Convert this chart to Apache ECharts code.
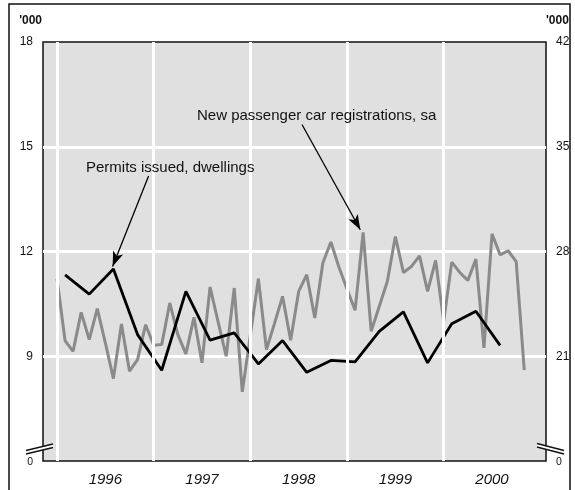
<!DOCTYPE html>
<html><head><meta charset="utf-8">
<script src="https://cdn.jsdelivr.net/npm/echarts@6/dist/echarts.min.js"></script>
<style>html,body{margin:0;padding:0;background:#fff}#c{width:575px;height:490px}</style>
</head><body><div id="c"></div>
<script>
const years = ['1996', '1997', '1998', '1999', '2000'];
const leftMin = 6, leftMax = 18, leftStep = 3;      // bottom shown as 0 (broken axis)
const rightMin = 14, rightMax = 42, rightStep = 7;  // bottom shown as 0 (broken axis)
// New passenger car registrations, sa ('000) - monthly, from Jan 1996
const carRegistrations = [
  26.18, 22.05, 21.33, 23.93, 22.11, 24.18, 21.9, 19.51, 23.16, 20.0, 20.78, 23.11,
  21.73, 21.78, 24.56, 22.45, 21.16, 23.6, 20.56, 25.63, 23.3, 21.0, 25.56, 18.62,
  22.4, 26.18, 21.45, 23.2, 25.0, 22.07, 25.33, 26.45, 23.56, 27.23, 28.63, 26.95,
  25.5, 24.07, 29.27, 22.67, 24.33, 26.0, 29.0, 26.6, 27.0, 27.71, 25.33, 27.4,
  23.33, 27.29, 26.6, 26.07, 27.49, 21.56, 29.18, 27.78, 28.05, 27.33, 20.07
];
// Permits issued, dwellings ('000) - quarterly, mid-quarter, from Q1 1996
const permitsIssued = [
  11.33, 10.78, 11.50, 9.62, 8.60, 10.86, 9.46, 9.67, 8.78, 9.45,
  8.54, 8.88, 8.84, 9.71, 10.27, 8.81, 9.93, 10.29, 9.31
];
const permitsLabel = 'Permits issued, dwellings';
const carLabel = 'New passenger car registrations, sa';
const unitLabel = "'000";

const FONT = 'Liberation Sans, Arial, Helvetica, sans-serif';
const carData = carRegistrations.map((v, i) => [i, v]);            // month index from Jan 1996
const permitsData = permitsIssued.map((v, i) => [1 + 3 * i, v]);   // middle month of quarter
const yearStarts = years.map((y, i) => i * 12);
const yearMids = years.map((y, i) => i * 12 + 6);

const chart = echarts.init(document.getElementById('c'), null, {renderer: 'canvas'});
chart.setOption({
  animation: false,
  textStyle: {fontFamily: FONT},
  grid: {left: 43, right: 29, top: 42, bottom: 29, show: true,
         backgroundColor: '#e0e0e0', borderColor: '#111', borderWidth: 1.5},
  xAxis: {
    type: 'value', min: -1.738, max: 60.70,
    axisLine: {show: false}, axisTick: {show: false}, splitLine: {show: false},
    axisLabel: {customValues: yearMids, margin: 11, fontSize: 15, fontStyle: 'italic', color: '#111',
      fontFamily: FONT,
      formatter: v => years[Math.round((v - 6) / 12)]}
  },
  yAxis: [
    {type: 'value', min: leftMin, max: leftMax, interval: leftStep, position: 'left',
     axisLine: {show: false}, axisTick: {show: false},
     splitLine: {show: true, showMinLine: false, showMaxLine: false, lineStyle: {color: '#fff', width: 3}},
     axisLabel: {margin: 10, fontSize: 12, color: '#111', fontFamily: FONT,
       formatter: v => v === leftMin ? '{z|0}' : String(v),
       rich: {z: {fontSize: 10.5, color: '#111', fontFamily: FONT, padding: [3, 0, 0, 0]}}}},
    {type: 'value', min: rightMin, max: rightMax, interval: rightStep, position: 'right',
     axisLine: {show: false}, axisTick: {show: false}, splitLine: {show: false},
     axisLabel: {margin: 10, fontSize: 12, color: '#111', fontFamily: FONT,
       formatter: v => v === rightMin ? '{z|0}' : String(v),
       rich: {z: {fontSize: 10.5, color: '#111', fontFamily: FONT, padding: [3, 0, 0, 0]}}}}
  ],
  series: [
    {type: 'line', data: [], z: 1, silent: true,
     markLine: {silent: true, symbol: 'none', label: {show: false},
       lineStyle: {color: '#fff', width: 3, type: 'solid'},
       emphasis: {disabled: true},
       data: yearStarts.map(x => ({xAxis: x}))}},
    {type: 'line', name: carLabel, yAxisIndex: 1, data: carData, z: 3,
     showSymbol: false, symbol: 'none', lineStyle: {color: '#8a8a8a', width: 3}, silent: true,
     markLine: {silent: true, label: {show: false}, emphasis: {disabled: true},
       lineStyle: {color: '#000', width: 1.3, type: 'solid'},
       data: [[{coord: [30.41, 36.49], symbol: 'none'},
               {coord: [37.65, 29.45], symbol: 'arrow', symbolSize: [8, 15]}]]}},
    {type: 'line', name: permitsLabel, yAxisIndex: 0, data: permitsData, z: 4,
     showSymbol: false, symbol: 'none', lineStyle: {color: '#000', width: 2.8}, silent: true,
     markLine: {silent: true, label: {show: false}, emphasis: {disabled: true},
       lineStyle: {color: '#000', width: 1.3, type: 'solid'},
       data: [[{coord: [11.37, 14.16], symbol: 'none'},
               {coord: [6.9, 11.57], symbol: 'arrow', symbolSize: [8, 15]}]]}}
  ],
  graphic: [
    {type: 'rect', shape: {x: 9, y: 4, width: 561, height: 500}, silent: true,
     style: {fill: null, stroke: '#111', lineWidth: 1.5}, z: 10},
    {type: 'text', x: 42, y: 21, silent: true, z: 100,
     style: {text: unitLabel, font: 'bold 12px ' + FONT, fill: '#111', textAlign: 'right', textVerticalAlign: 'middle'}},
    {type: 'text', x: 546, y: 21, silent: true, z: 100,
     style: {text: unitLabel, font: 'bold 12px ' + FONT, fill: '#111', textAlign: 'left', textVerticalAlign: 'middle'}},
    {type: 'text', x: 86, y: 168, silent: true, z: 100,
     style: {text: permitsLabel, font: '15px ' + FONT, fill: '#111', textVerticalAlign: 'middle'}},
    {type: 'text', x: 197, y: 116, silent: true, z: 100,
     style: {text: carLabel, font: '15px ' + FONT, fill: '#111', textVerticalAlign: 'middle'}},
    // axis break marks
    {type: 'polygon', silent: true, z: 20, shape: {points: [[26, 450.5], [53, 444], [53, 447.5], [26, 454]]}, style: {fill: '#fff'}},
    {type: 'line', silent: true, z: 21, shape: {x1: 26, y1: 450.5, x2: 53, y2: 444}, style: {stroke: '#111', lineWidth: 1.3}},
    {type: 'line', silent: true, z: 21, shape: {x1: 26, y1: 454, x2: 53, y2: 447.5}, style: {stroke: '#111', lineWidth: 1.3}},
    {type: 'polygon', silent: true, z: 20, shape: {points: [[537, 443.5], [564, 450.5], [564, 454], [537, 447]]}, style: {fill: '#fff'}},
    {type: 'line', silent: true, z: 21, shape: {x1: 537, y1: 443.5, x2: 564, y2: 450.5}, style: {stroke: '#111', lineWidth: 1.3}},
    {type: 'line', silent: true, z: 21, shape: {x1: 537, y1: 447, x2: 564, y2: 454}, style: {stroke: '#111', lineWidth: 1.3}}
  ]
});
</script></body></html>
